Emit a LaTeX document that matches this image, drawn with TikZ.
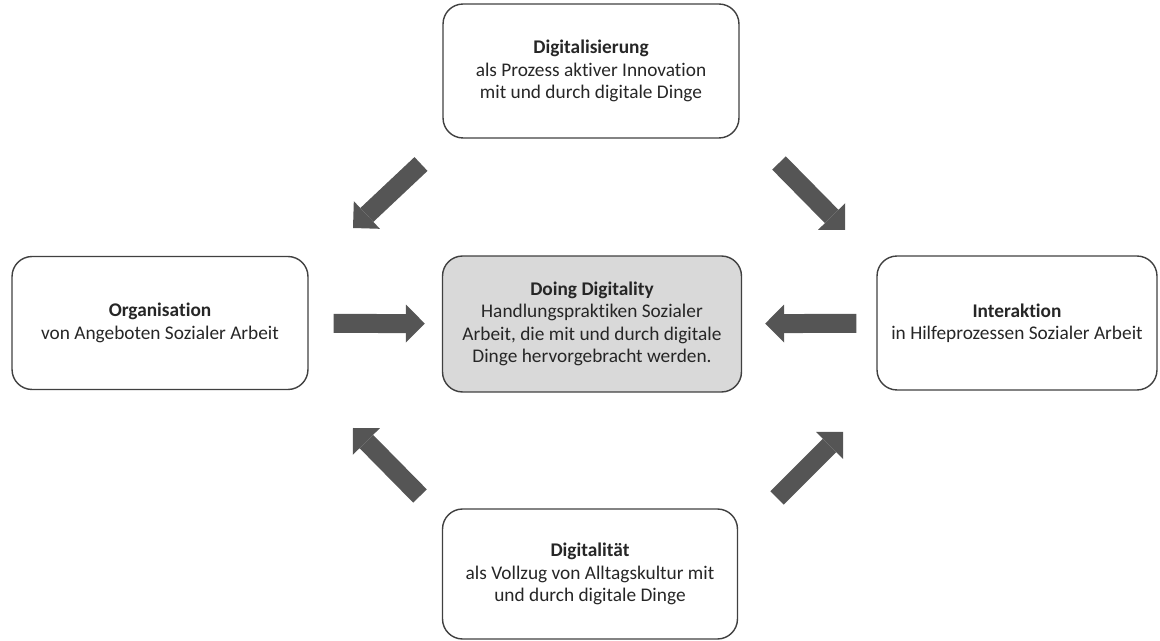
\documentclass[tikz,border=0pt]{standalone}
\usepackage{fontspec}
\setmainfont{Carlito}[Ligatures=NoCommon]
\usetikzlibrary{arrows.meta}

\definecolor{pfeilgrau}{RGB}{85,85,85}
\definecolor{kastengrau}{RGB}{217,217,217}

\tikzset{
 kasten/.style={draw=black!75, line width=0.8pt, rounded corners=0.4cm, align=center, text=black!85, font=\fontsize{11}{12.7}\selectfont},
 pfeil/.style={draw=pfeilgrau, line width=0.38cm, -{Triangle[length=0.38cm, width=0.76cm, line width=0pt]}},
}

\begin{document}
\begin{tikzpicture}[x=0.02cm, y=-0.02cm]
 \useasboundingbox (0,0) rectangle (1160,641); %Bildgroesse

 \node[kasten, fill=kastengrau, minimum width=5.98cm, minimum height=2.72cm] (doing) at (592,324) {\textbf{Doing Digitality}\\Handlungspraktiken Sozialer\\Arbeit, die mit und durch digitale\\Dinge hervorgebracht werden.}; %Mitte
 \node[kasten, minimum width=5.92cm, minimum height=2.68cm] (dig) at (591,71) {\textbf{Digitalisierung}\\als Prozess aktiver Innovation\\mit und durch digitale Dinge}; %oben
 \node[kasten, minimum width=5.92cm, minimum height=2.66cm] (org) at (160,323) {\textbf{Organisation}\\von Angeboten Sozialer Arbeit}; %links
 \node[kasten, minimum width=5.6cm, minimum height=2.68cm] (inter) at (1017,323) {\textbf{Interaktion}\\in Hilfeprozessen Sozialer Arbeit}; %rechts
 \node[kasten, minimum width=5.9cm, minimum height=2.6cm] (vollzug) at (590,574) {\textbf{Digitalität}\\als Vollzug von Alltagskultur mit\\und durch digitale Dinge}; %unten

 \coordinate (ol) at (421,164); %oben links
 \coordinate (olS) at (353,228);
 \coordinate (or) at (779,163); %oben rechts
 \coordinate (orS) at (845,230);
 \coordinate (ul) at (420,496); %unten links
 \coordinate (ulS) at (353,428);
 \coordinate (ur) at (777,498); %unten rechts
 \coordinate (urS) at (843,432);

 \draw[pfeil] (ol)--(olS);
 \draw[pfeil] (or)--(orS);
 \draw[pfeil] (ul)--(ulS);
 \draw[pfeil] (ur)--(urS);
 \draw[pfeil, shorten <=0.5cm, shorten >=0.34cm] (org)--(doing);
 \draw[pfeil, shorten <=0.4cm, shorten >=0.46cm] (inter)--(doing);
\end{tikzpicture}
\end{document}
